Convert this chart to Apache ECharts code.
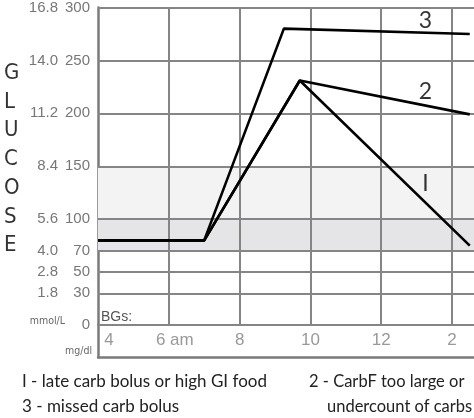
<!DOCTYPE html>
<html><head><meta charset="utf-8">
<script src="https://cdn.jsdelivr.net/npm/echarts@6/dist/echarts.min.js"></script>
<style>html,body{margin:0;padding:0;background:#fff}#c{width:474px;height:418px}</style>
</head><body><div id="c"></div>
<script>
// ---- data ----
const curve1X = [4, 7, 9.7, 14.5];
const curve1Y = [80, 80, 231, 75];
const curve2X = [4, 7, 9.7, 14.5];
const curve2Y = [80, 80, 231, 199];
const curve3X = [4, 7, 9.25, 14.5];
const curve3Y = [80, 80, 280, 275];
const mgdlTicks = [0, 30, 50, 70, 100, 150, 200, 250, 300];
const mmolLabels = ['', '1.8', '2.8', '4.0', '5.6', '8.4', '11.2', '14.0', '16.8'];
const hourTicks = [4, 6, 8, 10, 12, 14];
const hourLabels = ['4', '6 am', '8', '10', '12', '2'];
const lowBand = [70, 100];
const highBand = [100, 150];
const curveLabelText = ['I', '2', '3'];
const curveLabelX = [13.25, 13.25, 13.25];
const curveLabelY = [134, 221, 288];
const notes = ['I - late carb bolus or high GI food', '2 - CarbF too large or', '3 - missed carb bolus', 'undercount of carbs'];

const zip = (xs, ys) => xs.map((x, i) => [x, ys[i]]);
const GRID = '#858585';
const XMAX = 14.62;
const COND = 'DejaVu Sans Condensed, Liberation Sans, sans-serif';

const chart = echarts.init(document.getElementById('c'), null, {renderer: 'canvas'});
const lineStyle = {color: '#000', width: 2.6};
const curve = (name, d) => ({
  type: 'line', name, data: d, xAxisIndex: 0, yAxisIndex: 0,
  symbol: 'none', lineStyle, z: 5, silent: true, animation: false
});

chart.setOption({
  animation: false,
  grid: [
    {left: 98, right: 0, top: 5, height: 320},
    {left: 98, right: 0, top: 325, height: 32}
  ],
  xAxis: [
    {type: 'value', gridIndex: 0, min: 4, max: XMAX, interval: 2,
     axisLine: {show: true, lineStyle: {color: GRID, width: 2}},
     axisTick: {show: false}, axisLabel: {show: false}, splitLine: {show: false}},
    {type: 'value', gridIndex: 1, min: 4, max: XMAX, interval: 2,
     axisLine: {show: true, lineStyle: {color: '#7a7a7a', width: 2.5}},
     axisTick: {show: false}, splitLine: {show: false},
     axisLabel: {inside: true, margin: 8, fontSize: 17, color: '#999', fontFamily: 'Liberation Sans',
       showMaxLabel: false,
       formatter: v => {
         const i = hourTicks.indexOf(v);
         if (i < 0) return '';
         if (i === 0) return '{a|' + hourLabels[i] + '}';
         if (i === 1) return '{b|' + hourLabels[i] + '}';
         return hourLabels[i];
       },
       rich: {a: {fontSize: 17, color: '#999', padding: [0, 0, 0, 22]},
              b: {fontSize: 17, color: '#999', padding: [0, 0, 0, 12]}}}}
  ],
  yAxis: [
    {type: 'value', gridIndex: 0, min: 0, max: 300, interval: 10,
     axisLine: {show: true, lineStyle: {color: '#7a7a7a', width: 2.5}},
     axisTick: {show: false}, splitLine: {show: false},
     axisLabel: {margin: 8, fontSize: 15, color: '#777', fontFamily: 'Liberation Sans',
       formatter: v => mgdlTicks.includes(v) ? String(v) : ''}},
    {type: 'value', gridIndex: 0, min: 0, max: 300, interval: 10, position: 'left',
     axisLine: {show: false}, axisTick: {show: false}, splitLine: {show: false},
     axisLabel: {margin: 40, fontSize: 15, color: '#777', fontFamily: 'Liberation Sans',
       formatter: v => { const i = mgdlTicks.indexOf(v); return i > 0 ? mmolLabels[i] : ''; }}},
    {type: 'value', gridIndex: 1, min: 0, max: 1,
     axisLine: {show: true, lineStyle: {color: '#7a7a7a', width: 2.5}},
     axisTick: {show: false}, axisLabel: {show: false}, splitLine: {show: false}}
  ],
  series: [
    {type: 'line', data: [], xAxisIndex: 0, yAxisIndex: 0, z: 1, silent: true,
     markArea: {silent: true, data: [
       [{yAxis: highBand[0], itemStyle: {color: '#f3f3f3'}}, {yAxis: highBand[1]}],
       [{yAxis: lowBand[0], itemStyle: {color: '#e5e5e7'}}, {yAxis: lowBand[1]}]
     ]},
     markLine: {silent: true, symbol: ['none', 'none'], label: {show: false},
       lineStyle: {color: GRID, width: 2, type: 'solid'},
       data: mgdlTicks.filter(v => v > 0).map(v => ({yAxis: v}))
         .concat(hourTicks.filter(v => v > 4).map(v => ({xAxis: v})))}},
    curve('1', zip(curve1X, curve1Y)),
    curve('2', zip(curve2X, curve2Y)),
    curve('3', zip(curve3X, curve3Y)),
    {type: 'scatter', xAxisIndex: 0, yAxisIndex: 0, symbolSize: 0, z: 6, silent: true,
     data: curveLabelText.map((t, i) => [curveLabelX[i], curveLabelY[i], t]),
     label: {show: true, position: 'inside', formatter: p => p.data[2],
       fontSize: 23, color: '#000', fontFamily: 'Lato'}}
  ],
  graphic: [
    {type: 'text', left: 4, top: 59, style: {text: 'G\nL\nU\nC\nO\nS\nE', fontSize: 22, lineHeight: 28.7,
      fontFamily: COND, fill: '#333', align: 'center'}},
    {type: 'text', right: 409, top: 316, style: {text: 'mmol/L', fontSize: 10.5, fontFamily: COND, fill: '#666', align: 'right'}},
    {type: 'text', right: 382, top: 346, style: {text: 'mg/dl', fontSize: 10.5, fontFamily: COND, fill: '#666', align: 'right'}},
    {type: 'text', left: 101, top: 310, style: {text: 'BGs:', fontSize: 14, fontFamily: 'Liberation Sans', fill: '#555'}},
    {type: 'text', left: 22, top: 373, style: {text: notes[0], fontSize: 17, fontFamily: 'Lato', fill: '#222'}},
    {type: 'text', left: 309, top: 373, style: {text: notes[1], fontSize: 16.5, fontFamily: 'Lato', fill: '#222'}},
    {type: 'text', left: 22, top: 398, style: {text: notes[2], fontSize: 17, fontFamily: 'Lato', fill: '#222'}},
    {type: 'text', left: 327, top: 398, style: {text: notes[3], fontSize: 16.5, fontFamily: 'Lato', fill: '#222'}}
  ]
});
</script></body></html>
